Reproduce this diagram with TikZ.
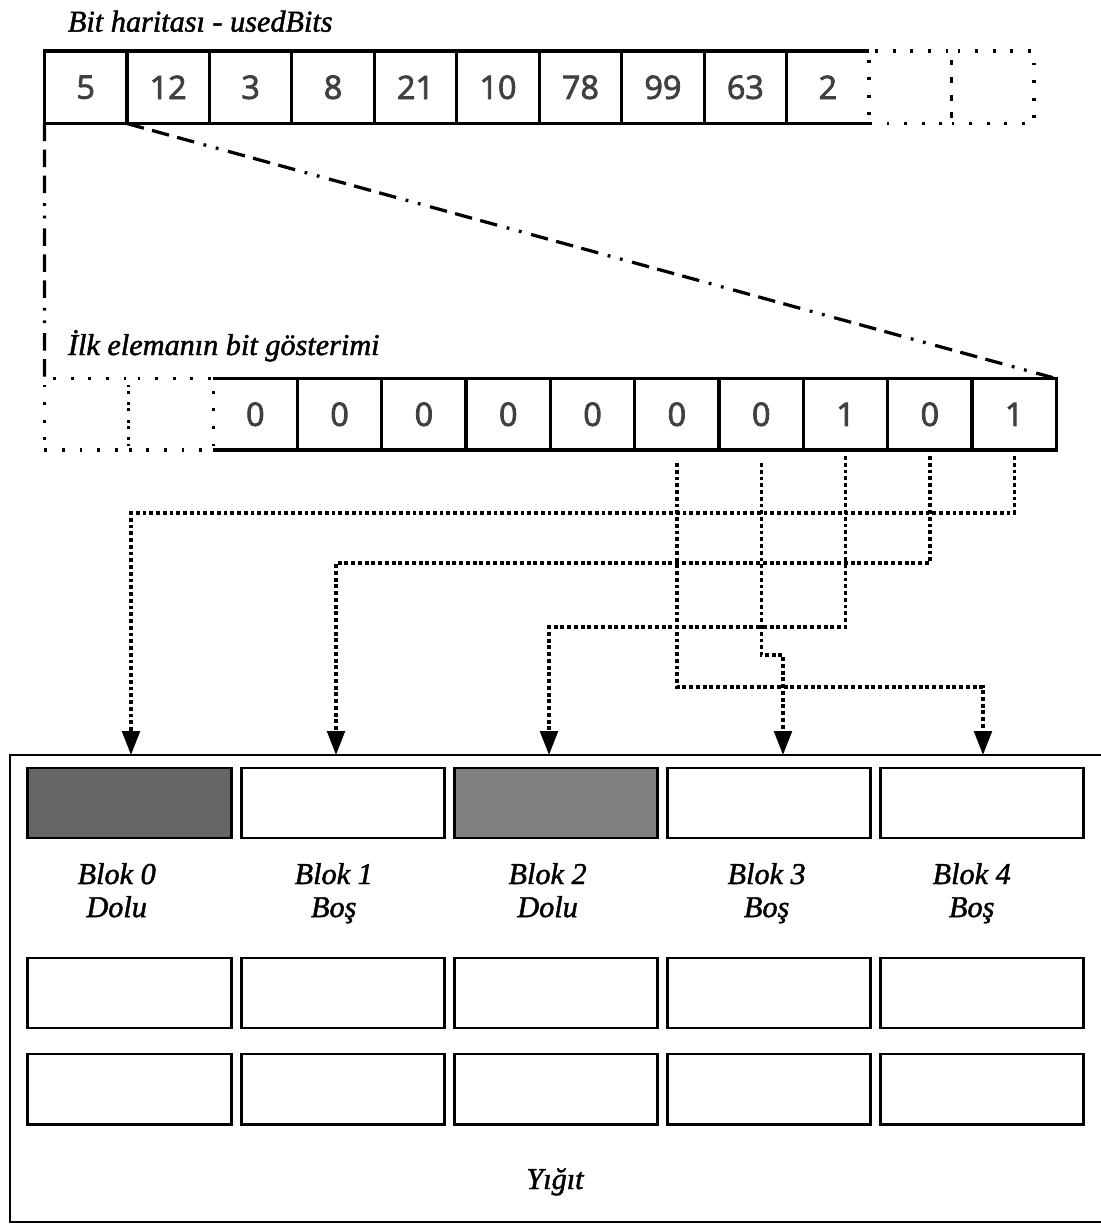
\documentclass[tikz,border=0pt]{standalone}
\usepackage{fontspec}
\setmainfont{Liberation Serif}[ItalicFeatures={RawFeature={embolden=1.5}}]
\newfontfamily\numfont{Open Sans}[RawFeature={embolden=2.5}]
\usetikzlibrary{positioning,arrows.meta}
\definecolor{usedDark}{HTML}{666666}
\definecolor{usedLight}{HTML}{808080}

\begin{document}
\begin{tikzpicture}[x=0.025cm, y=-0.025cm, node distance=0pt,
    every node/.style={inner sep=0pt, outer sep=0pt},
    cell/.style={draw, line width=2.3pt, minimum width=2.061cm, minimum height=1.8125cm,
        font=\numfont\fontsize{23}{26}\selectfont, text=black!75},
    opencell/.style={cell, draw=none},
    ghost/.style={cell, text=black, dash pattern=on 2pt off 10.5pt},
    bitcell/.style={cell, minimum width=2.1075cm, minimum height=1.785cm},
    openbit/.style={bitcell, draw=none},
    ghostbit/.style={bitcell, dash pattern=on 2pt off 10.5pt},
    block/.style={draw, line width=2.1pt, minimum width=5.075cm, minimum height=1.75cm},
    heapbox/.style={draw, line width=1.5pt, minimum width=27.55cm, minimum height=11.675cm},
    lbl/.style={font=\itshape\fontsize{21.5}{23.5}\selectfont},
    blabel/.style={lbl, align=center},
    zoomline/.style={line width=2.3pt, dash pattern=on 12.5pt off 6pt on 12.5pt off 6pt on 12.5pt off 7pt on 2pt off 7pt on 2pt off 7pt},
    link/.style={line width=2.4pt, dash pattern=on 2.8pt off 2pt, -{Triangle[width=12.5pt, length=17pt]}}]
    \useasboundingbox (0,0) rectangle (1100,1224);

    % bit haritasi
    \node[lbl, anchor=base west] (title) at (68,31.6) {Bit haritası - usedBits};
    \node[cell] (a0) at (85.7,87.3) {5};
    \node[cell, right=of a0] (a1) {12};
    \node[cell, right=of a1] (a2) {3};
    \node[cell, right=of a2] (a3) {8};
    \node[cell, right=of a3] (a4) {21};
    \node[cell, right=of a4] (a5) {10};
    \node[cell, right=of a5] (a6) {78};
    \node[cell, right=of a6] (a7) {99};
    \node[cell, right=of a7] (a8) {63};
    \node[opencell, right=of a8] (a9) {2};
    \node[ghost, right=of a9] (e0) {};
    \node[ghost, right=of e0] (e1) {};
    \draw[line width=2.3pt] (a8.north east) -- (a9.north east) (a8.south east) -- (a9.south east);

    % ilk elemanin bitleri
    \node[lbl, anchor=base west] (subtitle) at (68,355) {İlk elemanın bit gösterimi};
    \node[ghostbit] (d0) at (86.65,414.3) {};
    \node[ghostbit, right=of d0] (d1) {};
    \node[openbit, right=of d1] (b0) {0};
    \node[bitcell, right=of b0] (b1) {0};
    \node[bitcell, right=of b1] (b2) {0};
    \node[bitcell, right=of b2] (b3) {0};
    \node[bitcell, right=of b3] (b4) {0};
    \node[bitcell, right=of b4] (b5) {0};
    \node[bitcell, right=of b5] (b6) {0};
    \node[bitcell, right=of b6] (b7) {1};
    \node[bitcell, right=of b7] (b8) {0};
    \node[bitcell, right=of b8] (b9) {1};
    \draw[line width=2.3pt] (b0.north west) -- (b1.north west) (b0.south west) -- (b1.south west);

    \draw[zoomline] (a0.south west) -- (d0.north west);
    \draw[zoomline] (a0.south east) -- (b9.north east);

    % yigit
    \node[heapbox] (heap) at (561,988.5) {};
    \node[block, fill=usedDark] (blk0) at (129.5,803) {};
    \node[block, right=0.25cm of blk0] (blk1) {};
    \node[block, fill=usedLight, right=0.25cm of blk1] (blk2) {};
    \node[block, right=0.25cm of blk2] (blk3) {};
    \node[block, right=0.25cm of blk3] (blk4) {};
    \node[blabel, below=0.625cm of blk0, xshift=-0.32cm] (l0) {Blok 0\\Dolu};
    \node[blabel, below=0.625cm of blk1, xshift=-0.22cm] (l1) {Blok 1\\Boş};
    \node[blabel, below=0.625cm of blk2, xshift=-0.2cm] (l2) {Blok 2\\Dolu};
    \node[blabel, below=0.625cm of blk3, xshift=-0.05cm] (l3) {Blok 3\\Boş};
    \node[blabel, below=0.625cm of blk4, xshift=-0.25cm] (l4) {Blok 4\\Boş};
    \node[block] (m0) at (129.5,993) {};
    \node[block, right=0.25cm of m0] (m1) {};
    \node[block, right=0.25cm of m1] (m2) {};
    \node[block, right=0.25cm of m2] (m3) {};
    \node[block, right=0.25cm of m3] (m4) {};
    \node[block] (n0) at (129.5,1089) {};
    \node[block, right=0.25cm of n0] (n1) {};
    \node[block, right=0.25cm of n1] (n2) {};
    \node[block, right=0.25cm of n2] (n3) {};
    \node[block, right=0.25cm of n3] (n4) {};
    \node[lbl, anchor=base] (yigit) at (555,1189) {Yığıt};

    % bitlerden bloklara
    \coordinate (t0) at (131,755);
    \coordinate (t1) at (336,755);
    \coordinate (t2) at (549,755);
    \coordinate (t3) at (783,755);
    \coordinate (t4) at (983,755);
    \draw[link] (b9.south) ++(0,6) -- ++(0,57) -| (t0);
    \draw[link] (b8.south) ++(0,6) -- ++(0,107) -| (t1);
    \draw[link] (b7.south) ++(0,6) -- ++(0,171) -| (t2);
    \draw[link] (b6.south) ++(0,13) -- ++(0,192) -| (t3);
    \draw[link] (b5.south) ++(0,13) -- ++(0,224) -| (t4);
\end{tikzpicture}
\end{document}
